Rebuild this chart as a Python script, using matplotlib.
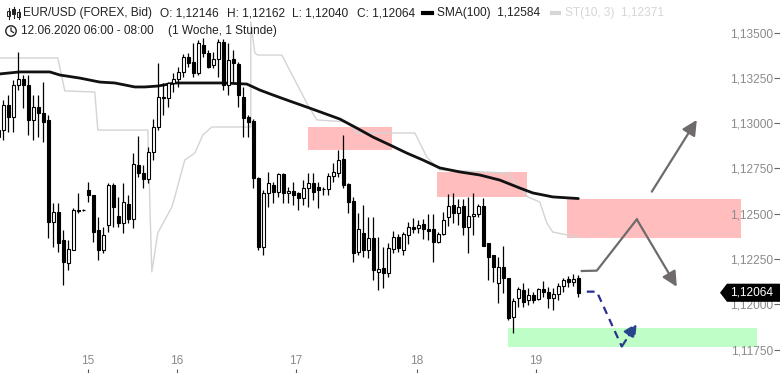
import numpy as np
import matplotlib
matplotlib.use("Agg")
import matplotlib.pyplot as plt
import matplotlib.transforms as mtransforms
from matplotlib.patches import Rectangle, Polygon, Circle
from matplotlib.lines import Line2D

plt.rcParams['font.family'] = ['Liberation Sans', 'DejaVu Sans']

# EUR/USD hourly candles (12.06. - 19.06.2020)
opens = [1.12924, 1.12962, 1.13100, 1.13034, 1.13211, 1.13244, 1.13211, 1.13018, 1.13089, 1.13056,
         1.13018, 1.12455, 1.12510, 1.12355, 1.12228, 1.12300, 1.12521, 1.12521, 1.12631, 1.12604,
         1.12410, 1.12300, 1.12438, 1.12659, 1.12488, 1.12449, 1.12554, 1.12471, 1.12769, 1.12725,
         1.12692, 1.12841, 1.12979, 1.13145, 1.13139, 1.13222, 1.13244, 1.13283, 1.13365, 1.13338,
         1.13277, 1.13432, 1.13387, 1.13321, 1.13354, 1.13448, 1.13211, 1.13354, 1.13327, 1.13145,
         1.13034, 1.13012, 1.12697, 1.12317, 1.12615, 1.12659, 1.12620, 1.12720, 1.12615, 1.12626,
         1.12615, 1.12587, 1.12642, 1.12670, 1.12648, 1.12637, 1.12637, 1.12708, 1.12725, 1.12802,
         1.12664, 1.12570, 1.12289, 1.12394, 1.12300, 1.12366, 1.12179, 1.12201, 1.12173, 1.12306,
         1.12372, 1.12300, 1.12383, 1.12427, 1.12421, 1.12444, 1.12416, 1.12416, 1.12344, 1.12388,
         1.12482, 1.12548, 1.12504, 1.12543, 1.12427, 1.12488, 1.12499, 1.12543, 1.12339, 1.12272,
         1.12118, 1.12206, 1.12145, 1.11930, 1.12035, 1.12079, 1.12024, 1.12052, 1.12030, 1.12085,
         1.12068, 1.12035, 1.12057, 1.12101, 1.12140, 1.12123, 1.12146]
highs = [1.12973, 1.13128, 1.13156, 1.13238, 1.13393, 1.13266, 1.13266, 1.13156, 1.13156, 1.13227,
         1.13045, 1.12559, 1.12559, 1.12410, 1.12355, 1.12532, 1.12615, 1.12526, 1.12675, 1.12604,
         1.12482, 1.12427, 1.12670, 1.12670, 1.12593, 1.12670, 1.12604, 1.12835, 1.12929, 1.12769,
         1.12869, 1.13023, 1.13332, 1.13222, 1.13227, 1.13277, 1.13310, 1.13382, 1.13387, 1.13443,
         1.13459, 1.13470, 1.13404, 1.13393, 1.13465, 1.13465, 1.13443, 1.13404, 1.13338, 1.13200,
         1.13045, 1.13023, 1.12703, 1.12631, 1.12731, 1.12675, 1.12725, 1.12725, 1.12648, 1.12675,
         1.12620, 1.12686, 1.12725, 1.12725, 1.12675, 1.12648, 1.12725, 1.12780, 1.12852, 1.12935,
         1.12670, 1.12593, 1.12504, 1.12548, 1.12482, 1.12482, 1.12372, 1.12317, 1.12339, 1.12405,
         1.12388, 1.12399, 1.12455, 1.12477, 1.12466, 1.12471, 1.12499, 1.12499, 1.12399, 1.12510,
         1.12609, 1.12615, 1.12582, 1.12582, 1.12593, 1.12615, 1.12554, 1.12587, 1.12339, 1.12272,
         1.12261, 1.12322, 1.12145, 1.12035, 1.12096, 1.12118, 1.12090, 1.12068, 1.12090, 1.12129,
         1.12096, 1.12090, 1.12118, 1.12145, 1.12156, 1.12168, 1.12162]
lows = [1.12907, 1.12907, 1.12951, 1.12951, 1.13183, 1.13084, 1.12935, 1.12907, 1.12924, 1.12896,
        1.12366, 1.12317, 1.12289, 1.12107, 1.12190, 1.12300, 1.12504, 1.12515, 1.12565, 1.12344,
        1.12245, 1.12283, 1.12399, 1.12427, 1.12427, 1.12394, 1.12449, 1.12421, 1.12703, 1.12642,
        1.12670, 1.12797, 1.12962, 1.13045, 1.13089, 1.13172, 1.13200, 1.13255, 1.13310, 1.13255,
        1.13266, 1.13365, 1.13305, 1.13305, 1.13255, 1.13183, 1.13156, 1.13222, 1.13089, 1.12924,
        1.12924, 1.12642, 1.12300, 1.12272, 1.12537, 1.12559, 1.12593, 1.12559, 1.12559, 1.12548,
        1.12521, 1.12548, 1.12537, 1.12576, 1.12532, 1.12604, 1.12604, 1.12675, 1.12703, 1.12642,
        1.12504, 1.12234, 1.12272, 1.12261, 1.12256, 1.12134, 1.12079, 1.12090, 1.12151, 1.12283,
        1.12289, 1.12272, 1.12333, 1.12394, 1.12394, 1.12361, 1.12355, 1.12234, 1.12339, 1.12383,
        1.12432, 1.12449, 1.12438, 1.12383, 1.12283, 1.12383, 1.12482, 1.12322, 1.12134, 1.12123,
        1.12007, 1.12063, 1.11914, 1.11842, 1.11985, 1.11985, 1.11996, 1.12007, 1.12024, 1.12041,
        1.11980, 1.11969, 1.12024, 1.12068, 1.12096, 1.12101, 1.12040]
closes = [1.12962, 1.13100, 1.13034, 1.13211, 1.13244, 1.13211, 1.13018, 1.13089, 1.13056, 1.13007,
          1.12455, 1.12510, 1.12339, 1.12234, 1.12306, 1.12521, 1.12515, 1.12521, 1.12604, 1.12399,
          1.12300, 1.12383, 1.12659, 1.12537, 1.12449, 1.12565, 1.12471, 1.12775, 1.12725, 1.12692,
          1.12841, 1.12979, 1.13145, 1.13139, 1.13222, 1.13244, 1.13283, 1.13365, 1.13332, 1.13277,
          1.13443, 1.13387, 1.13310, 1.13354, 1.13448, 1.13211, 1.13349, 1.13332, 1.13156, 1.13029,
          1.13007, 1.12697, 1.12317, 1.12615, 1.12670, 1.12620, 1.12720, 1.12615, 1.12626, 1.12604,
          1.12587, 1.12642, 1.12670, 1.12620, 1.12631, 1.12637, 1.12708, 1.12731, 1.12797, 1.12659,
          1.12565, 1.12283, 1.12416, 1.12300, 1.12366, 1.12190, 1.12195, 1.12173, 1.12311, 1.12372,
          1.12311, 1.12388, 1.12427, 1.12416, 1.12438, 1.12416, 1.12405, 1.12344, 1.12388, 1.12466,
          1.12543, 1.12504, 1.12537, 1.12427, 1.12488, 1.12499, 1.12543, 1.12322, 1.12261, 1.12206,
          1.12206, 1.12145, 1.11925, 1.12018, 1.12085, 1.12013, 1.12052, 1.12024, 1.12085, 1.12068,
          1.12035, 1.12057, 1.12101, 1.12134, 1.12123, 1.12140, 1.12064]

# SMA(100), read at some candle positions
sma_idx = [0.3, 4.3, 10.3, 12.3, 16.3, 20.3, 23.3, 27.3, 29.3, 31.9, 35.3, 39.3, 44.9, 49.7,
           52.3, 54.9, 58.3, 61.7, 65.0, 68.3, 71.7, 74.9, 78.3, 81.7, 84.9, 88.3, 92.3, 96.3,
           100.3, 104.3, 106.9, 110.9, 116]
sma_val = [1.13272, 1.13283, 1.13283, 1.13266, 1.13249, 1.13227, 1.13222, 1.13200, 1.13200,
           1.13205, 1.13222, 1.13222, 1.13222, 1.13216, 1.13183, 1.13156, 1.13122, 1.13089,
           1.13056, 1.13023, 1.12973, 1.12924, 1.12880, 1.12835, 1.12797, 1.12753, 1.12731,
           1.12714, 1.12686, 1.12642, 1.12615, 1.12593, 1.12584]

# SuperTrend(10, 3)
st_idx = [0.3, 11.9, 13.3, 19.3, 19.9, 29.9, 30.7, 31.9, 34.7, 35.3, 37.3, 39.3, 40.9, 42.7,
          49.9, 50.5, 50.5, 51.3, 51.9, 56.7, 59.3, 61.7, 63.7, 69.7, 71.7, 83.3, 85.7, 88.3,
          101.7, 105.9, 108.3, 109.7, 110.9, 116]
st_val = [1.13360, 1.13360, 1.13178, 1.13172, 1.12962, 1.12962, 1.12179, 1.12394, 1.12537,
          1.12593, 1.12797, 1.12835, 1.12935, 1.12979, 1.12979, 1.12979, 1.13559, 1.13387,
          1.13376, 1.13376, 1.13238, 1.13111, 1.13018, 1.13007, 1.12946, 1.12946, 1.12813,
          1.12742, 1.12725, 1.12593, 1.12565, 1.12449, 1.12399, 1.12371]

day_labels = ['15', '16', '17', '18', '19']
day_pos = [17.9, 35.7, 59.5, 83.7, 107.5]
price_ticks = [1.1175, 1.12, 1.1225, 1.125, 1.1275, 1.13, 1.1325, 1.135]
last_price = 1.12064

# zones drawn on the chart: (x0, x1, y0, y1)
red_zones = [(61.9, 78.7, 1.12852, 1.12979),
             (87.7, 105.7, 1.12593, 1.12731),
             (113.7, 148.5, 1.12366, 1.12582)]
green_zone = (102.0, 151.7, 1.11765, 1.11869)

W, H = 780, 373
fig = plt.figure(figsize=(W / 100, H / 100), dpi=100)
ax = fig.add_axes([0, 0, 1, 1])
ax.set_xlim(0.34, 156.34)
ax.set_ylim(1.11621, 1.13680)

x = np.arange(len(opens))
o = np.array(opens); c = np.array(closes)

for x0, x1, y0, y1 in red_zones:
    ax.add_patch(Rectangle((x0, y0), x1 - x0, y1 - y0, facecolor='#ffbdbd', edgecolor='none', zorder=1))
gx0, gx1, gy0, gy1 = green_zone
ax.add_patch(Rectangle((gx0, gy0), gx1 - gx0, gy1 - gy0, facecolor='#bfffc7', edgecolor='none', zorder=1))

ax.plot(st_idx, st_val, color='#d4d4d4', lw=1.0, zorder=2)
ax.plot(sma_idx, sma_val, color='#111111', lw=2.0, zorder=3, solid_capstyle='round')

ax.vlines(x, lows, highs, color='black', lw=0.9, zorder=4)
bottoms = np.minimum(o, c)
heights = np.maximum(np.abs(c - o), 0.00001)
faces = ['white' if cc > oo else 'black' for oo, cc in zip(o, c)]
ax.bar(x, heights, bottom=bottoms, width=0.62, color=faces, edgecolor='black', linewidth=0.8, zorder=5)

# scenario arrows
gray = '#6f6b6b'
px = [116.7, 119.7, 127.7]
py = [1.12184, 1.12186, 1.12469]
ax.plot(px, py, color=gray, lw=1.6, zorder=6)
ax.annotate('', xy=(135.7, 1.12097), xytext=(127.7, 1.12469),
            arrowprops=dict(arrowstyle='-|>,head_length=0.9,head_width=0.45', color=gray, lw=1.6,
                            shrinkA=0, shrinkB=0), zorder=6)
ax.annotate('', xy=(139.7, 1.13018), xytext=(130.7, 1.12622),
            arrowprops=dict(arrowstyle='-|>,head_length=0.9,head_width=0.45', color=gray, lw=1.6,
                            shrinkA=0, shrinkB=0), zorder=6)
blue = '#2b2f8f'
ax.plot([117.7, 119.7, 124.7], [1.12070, 1.12070, 1.11767], color=blue, lw=1.6,
        dashes=(3.5, 2.5), zorder=6)
ax.annotate('', xy=(127.7, 1.11896), xytext=(124.7, 1.11767),
            arrowprops=dict(arrowstyle='-|>,head_length=0.8,head_width=0.4', color='#27458c', lw=1.6,
                            linestyle=(0, (3.5, 2.5)), shrinkA=0, shrinkB=0), zorder=6)

# axes styling
for s in ax.spines.values():
    s.set_visible(False)
ax.yaxis.tick_right()
ax.set_yticks(price_ticks)
ax.set_yticklabels([f'{v:.5f}'.replace('.', ',') for v in price_ticks])
ax.tick_params(axis='y', direction='in', length=4, width=0.8, color='#666666', pad=-5,
               labelsize=8.6, labelcolor='#8a8a8a')
for t in ax.get_yticklabels():
    t.set_horizontalalignment('right')
ax.set_xticks(day_pos)
ax.set_xticklabels(day_labels)
ax.tick_params(axis='x', direction='in', length=3, width=0.8, color='#555555', pad=-4,
               labelsize=8.6, labelcolor='#8a8a8a')
for t in ax.get_xticklabels():
    t.set_verticalalignment('bottom')

# current price tag
bt = mtransforms.blended_transform_factory(ax.transAxes, ax.transData)
hh = 0.00050
ax.add_patch(Polygon([(720 / W, last_price), (727 / W, last_price + hh), (1.0, last_price + hh),
                      (1.0, last_price - hh), (727 / W, last_price - hh)],
                     closed=True, facecolor='black', edgecolor='none', transform=bt, zorder=8,
                     clip_on=False))
ax.text(773 / W, last_price, f'{last_price:.5f}'.replace('.', ','), transform=bt, ha='right',
        va='center', color='white', fontsize=8.6, zorder=9)

# header
ft = fig.dpi_scale_trans
def fp(xp, yp):
    return xp / 100, (H - yp) / 100

hdr = [(23, 'EUR/USD (FOREX, Bid)', '#222222'), (160, 'O: 1,12146', '#222222'),
       (227, 'H: 1,12162', '#222222'), (292, 'L: 1,12040', '#222222'),
       (357, 'C: 1,12064', '#222222'), (437, 'SMA(100)  1,12584', '#222222'),
       (565, 'ST(10, 3)  1,12371', '#d6d6d6')]
for xp, s, col in hdr:
    fig.text(*fp(xp, 13), s, transform=ft, fontsize=8.6, color=col, va='center', ha='left')
fig.add_artist(Line2D([4.23, 4.32], [(H - 13) / 100] * 2, transform=ft, color='black', lw=3))
fig.add_artist(Line2D([5.52, 5.59], [(H - 13) / 100] * 2, transform=ft, color='#d6d6d6', lw=3))
fig.text(*fp(21, 31), '12.06.2020 06:00 - 08:00', transform=ft, fontsize=8.6, color='#222222', va='center')
fig.text(*fp(168, 31), '(1 Woche, 1 Stunde)', transform=ft, fontsize=8.6, color='#222222', va='center')

# small icons
for cx, (yt, yb, bt0, bb0) in zip([8.5, 13.5, 18.5], [(8, 19, 11, 16), (7, 18, 9, 14), (9, 19, 12, 17)]):
    fig.add_artist(Line2D([cx / 100] * 2, [(H - yt) / 100, (H - yb) / 100], transform=ft, color='#222222', lw=0.8))
    fig.add_artist(Rectangle((cx / 100 - 0.013, (H - bb0) / 100), 0.026, (bb0 - bt0) / 100,
                             transform=ft, facecolor='white' if cx != 13.5 else '#222222',
                             edgecolor='#222222', lw=0.7))
fig.add_artist(Circle(fp(11, 31), 0.052, transform=ft, facecolor='none', edgecolor='#222222', lw=1.0))
fig.add_artist(Line2D([0.11, 0.11, 0.135], [(H - 28) / 100, (H - 31) / 100, (H - 32.5) / 100],
                      transform=ft, color='#222222', lw=0.9))

fig.savefig('out.png', dpi=100)
